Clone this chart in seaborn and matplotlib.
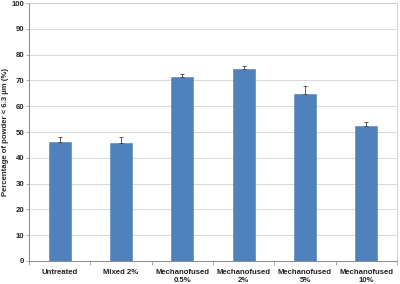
import numpy as np
import pandas as pd
import matplotlib
matplotlib.use('Agg')
import matplotlib.pyplot as plt
import seaborn as sns

# Data
samples = ['Untreated', 'Mixed 2%', 'Mechanofused\n0.5%', 'Mechanofused\n2%',
           'Mechanofused\n5%', 'Mechanofused\n10%']
fine_pct = [46.2, 45.6, 71.2, 74.3, 64.7, 52.4]
fine_err = [2.0, 2.3, 1.5, 1.3, 3.1, 1.4]

df = pd.DataFrame({'sample': samples, 'pct': fine_pct, 'err': fine_err})

sns.set_theme(style='white')
plt.rcParams['font.family'] = ['Liberation Sans', 'DejaVu Sans']

fig = plt.figure(figsize=(4, 2.84), dpi=100)
ax = fig.add_axes([0.0725, 0.081, 0.92, 0.908])

sns.barplot(data=df, x='sample', y='pct', color='#4F81BD', width=0.36,
            saturation=1, edgecolor='#4A7EBB', linewidth=0.4, ax=ax, zorder=3)

# upward-only error bars (Excel style)
xpos = np.arange(len(df))
ax.errorbar(xpos, df['pct'], yerr=[np.zeros(len(df)), df['err']], fmt='none',
            ecolor='#404040', elinewidth=0.6, capsize=1.2, capthick=0.6, zorder=4)

ax.set_ylim(0, 100)
ax.set_xlim(-0.5, len(df) - 0.5)
ax.set_yticks(range(0, 101, 10))
ax.yaxis.grid(True, color='#d9d9d9', linewidth=0.7, zorder=0)
ax.set_axisbelow(True)

ax.set_xlabel('')
ax.set_ylabel('Percentage of powder < 6.3 µm (%)', fontsize=5.6,
              fontweight='bold', labelpad=1.5)

for lbl in ax.get_xticklabels() + ax.get_yticklabels():
    lbl.set_fontweight('bold')
    lbl.set_fontsize(5.6)
    lbl.set_color('#222222')

ax.tick_params(axis='x', length=0, pad=6)
ax.tick_params(axis='y', length=2, width=0.5, color='#888888', pad=1.5, left=True)
ax.set_xticks(np.arange(-0.5, len(df), 1), minor=True)
ax.tick_params(axis='x', which='minor', length=3, width=0.5, color='#888888',
               bottom=True)

for side in ['left', 'bottom']:
    ax.spines[side].set_color('#888888')
    ax.spines[side].set_linewidth(0.7)
for side in ['top', 'right']:
    ax.spines[side].set_color('#d0d0d0')
    ax.spines[side].set_linewidth(0.7)

fig.savefig('out.png', dpi=100)
